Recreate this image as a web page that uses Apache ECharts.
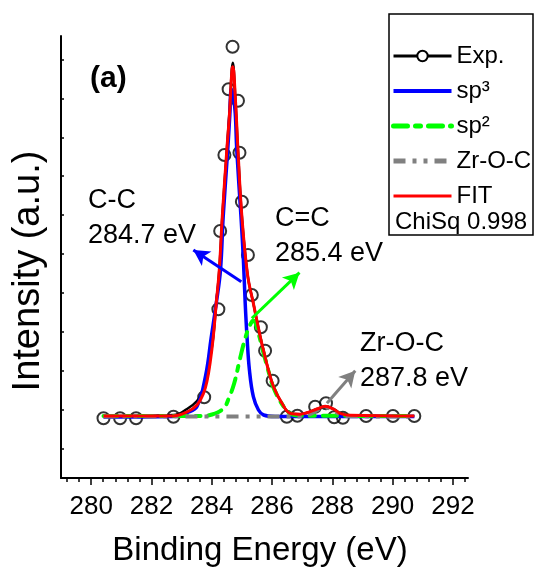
<!DOCTYPE html>
<html>
<head>
<meta charset="utf-8">
<script src="https://cdn.jsdelivr.net/npm/echarts@6/dist/echarts.min.js"></script>
<style>html,body{margin:0;padding:0;background:#fff}#chart{width:534px;height:569px}</style>
</head>
<body>
<div id="chart"></div>
<script>
// ---- data (Binding energy in eV, intensity in a.u.) ----
const xTickLabels = [280, 282, 284, 286, 288, 290, 292];
const xMinorTicks = [279.2, 279.6, 280.4, 280.8, 281.2, 281.6, 282.4, 282.8, 283.2, 283.6, 284.4, 284.8, 285.2, 285.6, 286.4, 286.8, 287.2, 287.6, 288.4, 288.8, 289.2, 289.6, 290.4, 290.8, 291.2, 291.6, 292.4];
const yTicks = [764, 1764, 2764, 3764, 4764, 5764, 6764, 7764, 8764, 9764, 10764];

const expEnergy    = [280.41, 280.96, 281.49, 282.73, 283.75, 284.22, 284.28, 284.42, 284.56, 284.69, 284.87, 284.92, 285.00, 285.20, 285.33, 285.63, 285.77, 286.02, 286.49, 286.84, 287.43, 287.79, 288.06, 288.35, 289.12, 290.01, 290.72];
const expIntensity = [1536, 1536, 1536, 1577, 2076, 4340, 6355, 8310, 10000, 11096, 9707, 8369, 7108, 5737, 4708, 3877, 3275, 2503, 1577, 1603, 1834, 1922, 1562, 1551, 1595, 1595, 1595];

const expLineEnergy    = [280.41, 282.73, 283.18, 283.51, 283.73, 283.85, 283.95, 284.05, 284.15, 284.25, 284.35, 284.50, 284.59, 284.70, 284.78, 284.87, 285.00, 285.19, 285.38, 285.61, 285.74, 285.88, 286.05, 286.33, 286.60, 286.93, 287.16, 287.49, 287.76, 288.04, 288.26, 288.59, 290.72];
const expLineIntensity = [1595, 1620, 1775, 1981, 2264, 2573, 3087, 3627, 4502, 5351, 6722, 8438, 9450, 10680, 9810, 8438, 6722, 5220, 4494, 3635, 3208, 2779, 2349, 1922, 1665, 1640, 1680, 1775, 1845, 1775, 1665, 1613, 1595];

const sp3Energy    = [280.41, 282.73, 283.18, 283.51, 283.80, 283.98, 284.15, 284.29, 284.38, 284.53, 284.60, 284.65, 284.72, 284.78, 284.83, 284.97, 285.05, 285.11, 285.17, 285.25, 285.38, 285.55, 285.72, 286.10, 290.72];
const sp3Intensity = [1569, 1582, 1680, 1840, 2650, 3600, 4494, 5351, 6722, 8438, 9339, 10008, 9800, 9383, 8438, 6722, 5608, 4494, 3635, 2779, 2092, 1749, 1621, 1582, 1582];

const sp2Energy    = [280.41, 283.62, 284.01, 284.39, 284.58, 284.75, 284.94, 285.11, 285.25, 285.38, 285.52, 285.74, 285.88, 286.05, 286.33, 286.60, 286.93, 290.72];
const sp2Intensity = [1595, 1595, 1634, 1793, 2080, 2450, 3080, 3594, 3900, 4050, 3800, 3150, 2750, 2320, 1900, 1660, 1605, 1595];

const zrEnergy    = [280.41, 286.90, 287.25, 287.50, 287.78, 288.02, 288.28, 288.60, 290.72];
const zrIntensity = [1580, 1585, 1640, 1745, 1815, 1745, 1630, 1590, 1580];

const fitEnergy    = [280.41, 282.73, 283.18, 283.51, 283.73, 283.85, 283.95, 284.05, 284.15, 284.25, 284.35, 284.50, 284.59, 284.67, 284.70, 284.78, 284.87, 285.00, 285.19, 285.38, 285.61, 285.74, 285.88, 286.05, 286.33, 286.60, 286.93, 287.16, 287.49, 287.76, 288.04, 288.26, 288.59, 290.72];
const fitIntensity = [1595, 1598, 1698, 1878, 2187, 2521, 2984, 3627, 4502, 5351, 6722, 8438, 9383, 10497, 10581, 9810, 8438, 6722, 5220, 4494, 3635, 3208, 2779, 2349, 1922, 1665, 1640, 1680, 1775, 1845, 1775, 1665, 1613, 1595];

// annotation arrows: [startEnergy, startIntensity, tipEnergy, tipIntensity]
const arrowCC   = [284.98, 5050, 283.39, 5866];
const arrowCeqC = [285.33, 4109, 286.91, 5282];
const arrowZr   = [287.82, 1922, 288.76, 2760];

const FONT = 'Liberation Sans, Arial, Helvetica, sans-serif';
const zip = (a, b) => a.map((v, i) => [v, b[i]]);

function arrow(a, color) {
  return {
    silent: true, animation: false,
    symbol: ['none', 'arrow'], symbolSize: [13, 16],
    lineStyle: { color: color, width: 3, type: 'solid' },
    label: { show: false }, emphasis: { disabled: true },
    data: [[{ coord: [a[0], a[1]] }, { coord: [a[2], a[3]] }]]
  };
}

const chart = echarts.init(document.getElementById('chart'), null, { renderer: 'canvas' });
chart.setOption({
  animation: false,
  backgroundColor: '#fff',
  grid: { left: 61, right: 66, top: 36, bottom: 91, containLabel: false, outerBoundsMode: 'none' },
  xAxis: [{
    type: 'value', position: 'bottom', min: 279, max: 292.5,
    name: 'Binding Energy (eV)', nameLocation: 'middle', nameGap: 56,
    nameTextStyle: { fontSize: 33, color: '#000', fontFamily: FONT, padding: [0, 9, 0, 0] },
    axisLine: { onZero: false, lineStyle: { color: '#000', width: 2 } },
    axisTick: { customValues: xTickLabels, length: 7, lineStyle: { color: '#000', width: 1.5 } },
    axisLabel: { customValues: xTickLabels, fontSize: 26, color: '#000', fontFamily: FONT, margin: 16 },
    splitLine: { show: false }
  }, {
    type: 'value', position: 'bottom', min: 279, max: 292.5,
    axisLine: { show: false, onZero: false },
    axisTick: { customValues: xMinorTicks, length: 4, lineStyle: { color: '#000', width: 1.5 } },
    axisLabel: { show: false },
    splitLine: { show: false }
  }],
  yAxis: {
    type: 'value', min: 0, max: 11371,
    name: 'Intensity (a.u.)', nameLocation: 'middle', nameGap: 13, nameRotate: 90,
    nameTextStyle: { fontSize: 38, color: '#000', fontFamily: FONT, padding: [0, 28, 0, 0] },
    axisLine: { show: true, onZero: false, lineStyle: { color: '#000', width: 2 } },
    axisTick: { show: true, inside: true, customValues: yTicks, length: 3, lineStyle: { color: '#000', width: 1.5 } },
    axisLabel: { show: false },
    splitLine: { show: false }
  },
  legend: {
    orient: 'vertical', left: 391, top: 44, padding: 0,
    itemWidth: 58, itemHeight: 13, itemGap: 11,
    selectedMode: false,
    textStyle: { fontSize: 24, color: '#000', fontFamily: FONT },
    data: [
      { name: 'Exp.', lineStyle: { width: 3 } },
      { name: 'sp³', itemStyle: { opacity: 0 }, lineStyle: { width: 4 } },
      { name: 'sp²', itemStyle: { opacity: 0 }, lineStyle: { width: 5 } },
      { name: 'Zr-O-C', itemStyle: { opacity: 0 }, lineStyle: { width: 5 } },
      { name: 'FIT', itemStyle: { opacity: 0 }, lineStyle: { width: 3 } }
    ]
  },
  series: [
    { name: 'Exp.', type: 'line', smooth: 0.4, data: zip(expLineEnergy, expLineIntensity),
      symbol: 'emptyCircle', showSymbol: false, color: '#000',
      lineStyle: { color: '#000', width: 2.5 } },
    { name: 'Exp. points', type: 'scatter', data: zip(expEnergy, expIntensity),
      symbol: 'circle', symbolSize: 12,
      itemStyle: { color: 'rgba(0,0,0,0)', borderColor: '#000', borderWidth: 2 } },
    { name: 'sp³', type: 'line', smooth: 0.4, data: zip(sp3Energy, sp3Intensity), showSymbol: false,
      color: '#0000ff', lineStyle: { color: '#0000ff', width: 3.5 }, markLine: arrow(arrowCC, '#0000ff') },
    { name: 'sp²', type: 'line', smooth: 0.4, data: zip(sp2Energy, sp2Intensity), showSymbol: false,
      color: '#00ff00', lineStyle: { color: '#00ff00', width: 4, type: [14, 8, 5, 8], cap: 'round' }, markLine: arrow(arrowCeqC, '#00ff00') },
    { name: 'Zr-O-C', type: 'line', smooth: 0.4, data: zip(zrEnergy, zrIntensity), showSymbol: false,
      color: '#808080', lineStyle: { color: '#808080', width: 4, type: [12, 7, 4, 7, 4, 7] }, markLine: arrow(arrowZr, '#808080') },
    { name: 'FIT', type: 'line', smooth: 0.4, data: zip(fitEnergy, fitIntensity), showSymbol: false,
      color: '#ff0000', lineStyle: { color: '#ff0000', width: 3 } }
  ],
  graphic: [
    { type: 'rect', shape: { x: 389, y: 14, width: 144, height: 221 }, style: { fill: 'none', stroke: '#000', lineWidth: 1.5 }, silent: true },
    { type: 'text', x: 395, y: 222, style: { text: 'ChiSq 0.998', font: '24px ' + FONT, fill: '#000', verticalAlign: 'middle' }, silent: true },
    { type: 'text', x: 90, y: 79, style: { text: '(a)', font: 'bold 30px ' + FONT, fill: '#000', verticalAlign: 'middle' }, silent: true },
    { type: 'text', x: 88, y: 201, style: { text: 'C-C', font: '27px ' + FONT, fill: '#000', verticalAlign: 'middle' }, silent: true },
    { type: 'text', x: 88, y: 236, style: { text: '284.7 eV', font: '27px ' + FONT, fill: '#000', verticalAlign: 'middle' }, silent: true },
    { type: 'text', x: 275, y: 219, style: { text: 'C=C', font: '27px ' + FONT, fill: '#000', verticalAlign: 'middle' }, silent: true },
    { type: 'text', x: 275, y: 254, style: { text: '285.4 eV', font: '27px ' + FONT, fill: '#000', verticalAlign: 'middle' }, silent: true },
    { type: 'text', x: 360, y: 344, style: { text: 'Zr-O-C', font: '27px ' + FONT, fill: '#000', verticalAlign: 'middle' }, silent: true },
    { type: 'text', x: 360, y: 379, style: { text: '287.8 eV', font: '27px ' + FONT, fill: '#000', verticalAlign: 'middle' }, silent: true }
  ]
});
</script>
</body>
</html>
